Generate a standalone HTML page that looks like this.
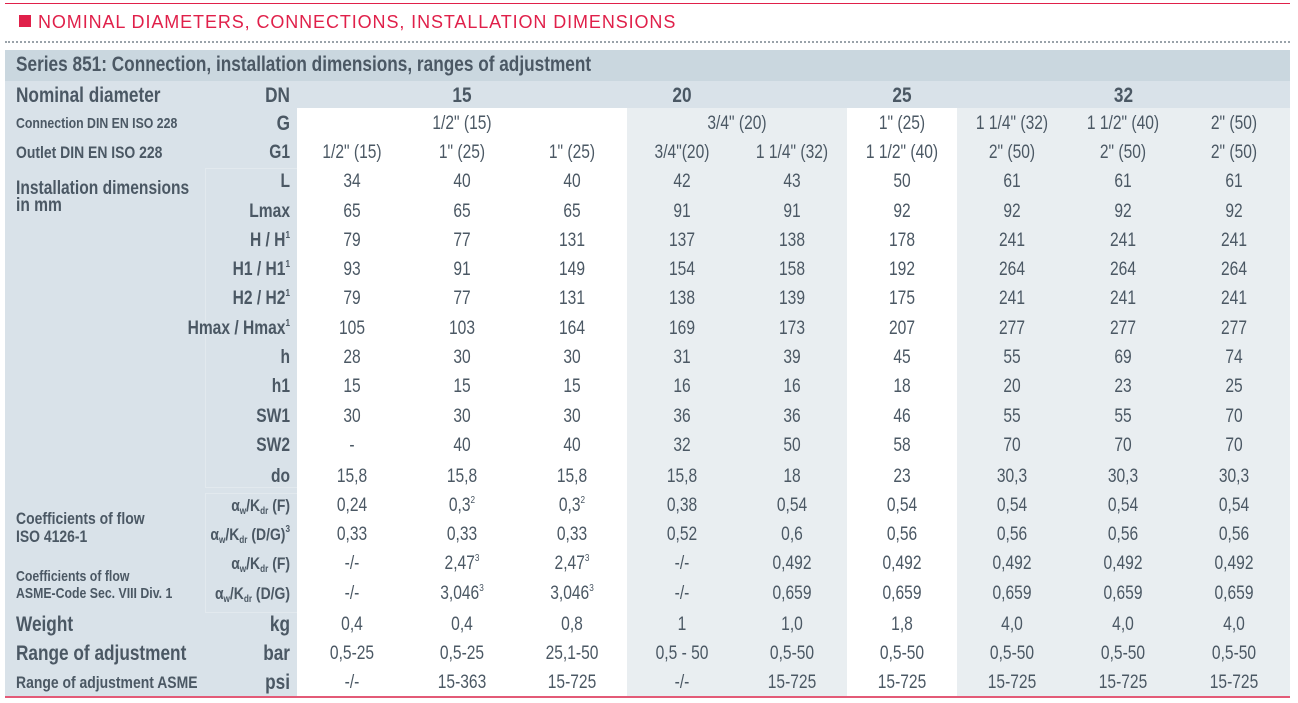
<!DOCTYPE html>
<html><head><meta charset="utf-8">
<style>
*{margin:0;padding:0;box-sizing:border-box}
body{width:1298px;height:703px;background:#fff;position:relative;overflow:hidden;font-family:"Liberation Sans",sans-serif;color:#4b5864}
div{position:absolute}
.t{height:24px;line-height:24px;font-size:19px;white-space:nowrap;transform:scaleX(.82)}
.c{width:110px;text-align:center;transform-origin:center}
.u{left:90px;width:200px;text-align:right;font-weight:bold;transform-origin:right}
.l{left:16px;font-weight:bold;transform-origin:left}
sup{font-size:10px;vertical-align:8px;line-height:0}
sub{font-size:10px;vertical-align:-3px;line-height:0}
.x0{left:297px}.x1{left:407px}.x2{left:517px}.x3{left:627px}.x4{left:737px}.x5{left:847px}.x6{left:957px}.x7{left:1068px}.x8{left:1179px}
</style></head><body>
<div style="left:5px;top:3px;width:1285px;height:1px;background:#e0204a"></div>
<div style="left:19px;top:15px;width:12px;height:12px;background:#e0204a"></div>
<div style="left:38px;top:11px;font-size:18px;line-height:22px;color:#e0204a;letter-spacing:0.9px">NOMINAL DIAMETERS, CONNECTIONS, INSTALLATION DIMENSIONS</div>
<div style="left:5px;top:41px;width:1285px;height:0;border-top:2px dotted #9aa3aa"></div>
<div style="left:5px;top:50px;width:1285px;height:31px;background:#cad7df"></div>
<div style="left:5px;top:81px;width:292px;height:616px;background:#d9e2e9"></div>
<div style="left:297px;top:81px;width:993px;height:27px;background:#d9e2e9"></div>
<div style="left:627px;top:108px;width:220px;height:589px;background:#e9eef1"></div>
<div style="left:957px;top:108px;width:333px;height:589px;background:#e9eef1"></div>
<div style="left:205px;top:168px;width:92px;height:320px;border:1px solid #e2e9ee;border-right:none"></div>
<div style="left:205px;top:493px;width:92px;height:120px;border:1px solid #e2e9ee;border-right:none"></div>
<div style="left:5px;top:696px;width:1285px;height:2px;background:#e35a77"></div>

<div class="t l" style="top:53px;font-size:21px">Series 851: Connection, installation dimensions, ranges of adjustment</div>

<div class="t l" style="top:84px;font-size:21px">Nominal diameter</div>
<div class="t u" style="top:84px;font-size:21px">DN</div>
<div class="t c" style="left:297px;width:330px;top:84px;font-size:21px;font-weight:bold">15</div>
<div class="t c" style="left:627px;width:110px;top:84px;font-size:21px;font-weight:bold">20</div>
<div class="t c x5" style="top:84px;font-size:21px;font-weight:bold">25</div>
<div class="t c" style="left:957px;width:333px;top:84px;font-size:21px;font-weight:bold">32</div>

<div class="t l" style="top:112px;font-size:15px">Connection DIN EN ISO 228</div>
<div class="t u" style="top:112px;font-size:21px">G</div>
<div class="t c" style="left:297px;width:330px;top:112px">1/2" (15)</div>
<div class="t c" style="left:627px;width:220px;top:112px">3/4" (20)</div>
<div class="t c x5" style="top:112px">1" (25)</div>
<div class="t c x6" style="top:112px">1 1/4" (32)</div>
<div class="t c x7" style="top:112px">1 1/2" (40)</div>
<div class="t c x8" style="top:112px">2" (50)</div>

<div class="t l" style="top:141px;font-size:17px">Outlet DIN EN ISO 228</div>
<div class="t u" style="top:141px">G1</div>
<div class="t c x0" style="top:141px">1/2" (15)</div><div class="t c x1" style="top:141px">1" (25)</div><div class="t c x2" style="top:141px">1" (25)</div><div class="t c x3" style="top:141px">3/4"(20)</div><div class="t c x4" style="top:141px">1 1/4" (32)</div><div class="t c x5" style="top:141px">1 1/2" (40)</div><div class="t c x6" style="top:141px">2" (50)</div><div class="t c x7" style="top:141px">2" (50)</div><div class="t c x8" style="top:141px">2" (50)</div>

<div class="t l" style="top:177px;font-size:19px">Installation dimensions</div>
<div class="t l" style="top:194px;font-size:19px">in mm</div>

<div class="t u" style="top:170px">L</div>
<div class="t c x0" style="top:170px">34</div><div class="t c x1" style="top:170px">40</div><div class="t c x2" style="top:170px">40</div><div class="t c x3" style="top:170px">42</div><div class="t c x4" style="top:170px">43</div><div class="t c x5" style="top:170px">50</div><div class="t c x6" style="top:170px">61</div><div class="t c x7" style="top:170px">61</div><div class="t c x8" style="top:170px">61</div>

<div class="t u" style="top:200px">Lmax</div>
<div class="t c x0" style="top:200px">65</div><div class="t c x1" style="top:200px">65</div><div class="t c x2" style="top:200px">65</div><div class="t c x3" style="top:200px">91</div><div class="t c x4" style="top:200px">91</div><div class="t c x5" style="top:200px">92</div><div class="t c x6" style="top:200px">92</div><div class="t c x7" style="top:200px">92</div><div class="t c x8" style="top:200px">92</div>

<div class="t u" style="top:229px">H / H<sup>1</sup></div>
<div class="t c x0" style="top:229px">79</div><div class="t c x1" style="top:229px">77</div><div class="t c x2" style="top:229px">131</div><div class="t c x3" style="top:229px">137</div><div class="t c x4" style="top:229px">138</div><div class="t c x5" style="top:229px">178</div><div class="t c x6" style="top:229px">241</div><div class="t c x7" style="top:229px">241</div><div class="t c x8" style="top:229px">241</div>

<div class="t u" style="top:258px">H1 / H1<sup>1</sup></div>
<div class="t c x0" style="top:258px">93</div><div class="t c x1" style="top:258px">91</div><div class="t c x2" style="top:258px">149</div><div class="t c x3" style="top:258px">154</div><div class="t c x4" style="top:258px">158</div><div class="t c x5" style="top:258px">192</div><div class="t c x6" style="top:258px">264</div><div class="t c x7" style="top:258px">264</div><div class="t c x8" style="top:258px">264</div>

<div class="t u" style="top:287px">H2 / H2<sup>1</sup></div>
<div class="t c x0" style="top:287px">79</div><div class="t c x1" style="top:287px">77</div><div class="t c x2" style="top:287px">131</div><div class="t c x3" style="top:287px">138</div><div class="t c x4" style="top:287px">139</div><div class="t c x5" style="top:287px">175</div><div class="t c x6" style="top:287px">241</div><div class="t c x7" style="top:287px">241</div><div class="t c x8" style="top:287px">241</div>

<div class="t u" style="top:317px">Hmax / Hmax<sup>1</sup></div>
<div class="t c x0" style="top:317px">105</div><div class="t c x1" style="top:317px">103</div><div class="t c x2" style="top:317px">164</div><div class="t c x3" style="top:317px">169</div><div class="t c x4" style="top:317px">173</div><div class="t c x5" style="top:317px">207</div><div class="t c x6" style="top:317px">277</div><div class="t c x7" style="top:317px">277</div><div class="t c x8" style="top:317px">277</div>

<div class="t u" style="top:346px">h</div>
<div class="t c x0" style="top:346px">28</div><div class="t c x1" style="top:346px">30</div><div class="t c x2" style="top:346px">30</div><div class="t c x3" style="top:346px">31</div><div class="t c x4" style="top:346px">39</div><div class="t c x5" style="top:346px">45</div><div class="t c x6" style="top:346px">55</div><div class="t c x7" style="top:346px">69</div><div class="t c x8" style="top:346px">74</div>

<div class="t u" style="top:375px">h1</div>
<div class="t c x0" style="top:375px">15</div><div class="t c x1" style="top:375px">15</div><div class="t c x2" style="top:375px">15</div><div class="t c x3" style="top:375px">16</div><div class="t c x4" style="top:375px">16</div><div class="t c x5" style="top:375px">18</div><div class="t c x6" style="top:375px">20</div><div class="t c x7" style="top:375px">23</div><div class="t c x8" style="top:375px">25</div>

<div class="t u" style="top:405px">SW1</div>
<div class="t c x0" style="top:405px">30</div><div class="t c x1" style="top:405px">30</div><div class="t c x2" style="top:405px">30</div><div class="t c x3" style="top:405px">36</div><div class="t c x4" style="top:405px">36</div><div class="t c x5" style="top:405px">46</div><div class="t c x6" style="top:405px">55</div><div class="t c x7" style="top:405px">55</div><div class="t c x8" style="top:405px">70</div>

<div class="t u" style="top:434px">SW2</div>
<div class="t c x0" style="top:434px">-</div><div class="t c x1" style="top:434px">40</div><div class="t c x2" style="top:434px">40</div><div class="t c x3" style="top:434px">32</div><div class="t c x4" style="top:434px">50</div><div class="t c x5" style="top:434px">58</div><div class="t c x6" style="top:434px">70</div><div class="t c x7" style="top:434px">70</div><div class="t c x8" style="top:434px">70</div>

<div class="t u" style="top:465px">do</div>
<div class="t c x0" style="top:465px">15,8</div><div class="t c x1" style="top:465px">15,8</div><div class="t c x2" style="top:465px">15,8</div><div class="t c x3" style="top:465px">15,8</div><div class="t c x4" style="top:465px">18</div><div class="t c x5" style="top:465px">23</div><div class="t c x6" style="top:465px">30,3</div><div class="t c x7" style="top:465px">30,3</div><div class="t c x8" style="top:465px">30,3</div>

<div class="t l" style="top:507px;font-size:17px">Coefficients of flow</div>
<div class="t l" style="top:525px;font-size:17px">ISO 4126-1</div>
<div class="t l" style="top:565px;font-size:15px">Coefficients of flow</div>
<div class="t l" style="top:582px;font-size:15px">ASME-Code Sec. VIII Div. 1</div>

<div class="t u" style="top:494px;font-size:17px">α<sub>w</sub>/K<sub>dr</sub> (F)</div>
<div class="t c x0" style="top:494px">0,24</div><div class="t c x1" style="top:494px">0,3<sup>2</sup></div><div class="t c x2" style="top:494px">0,3<sup>2</sup></div><div class="t c x3" style="top:494px">0,38</div><div class="t c x4" style="top:494px">0,54</div><div class="t c x5" style="top:494px">0,54</div><div class="t c x6" style="top:494px">0,54</div><div class="t c x7" style="top:494px">0,54</div><div class="t c x8" style="top:494px">0,54</div>

<div class="t u" style="top:523px;font-size:17px">α<sub>w</sub>/K<sub>dr</sub> (D/G)<sup>3</sup></div>
<div class="t c x0" style="top:523px">0,33</div><div class="t c x1" style="top:523px">0,33</div><div class="t c x2" style="top:523px">0,33</div><div class="t c x3" style="top:523px">0,52</div><div class="t c x4" style="top:523px">0,6</div><div class="t c x5" style="top:523px">0,56</div><div class="t c x6" style="top:523px">0,56</div><div class="t c x7" style="top:523px">0,56</div><div class="t c x8" style="top:523px">0,56</div>

<div class="t u" style="top:552px;font-size:17px">α<sub>w</sub>/K<sub>dr</sub> (F)</div>
<div class="t c x0" style="top:552px">-/-</div><div class="t c x1" style="top:552px">2,47<sup>3</sup></div><div class="t c x2" style="top:552px">2,47<sup>3</sup></div><div class="t c x3" style="top:552px">-/-</div><div class="t c x4" style="top:552px">0,492</div><div class="t c x5" style="top:552px">0,492</div><div class="t c x6" style="top:552px">0,492</div><div class="t c x7" style="top:552px">0,492</div><div class="t c x8" style="top:552px">0,492</div>

<div class="t u" style="top:582px;font-size:17px">α<sub>w</sub>/K<sub>dr</sub> (D/G)</div>
<div class="t c x0" style="top:582px">-/-</div><div class="t c x1" style="top:582px">3,046<sup>3</sup></div><div class="t c x2" style="top:582px">3,046<sup>3</sup></div><div class="t c x3" style="top:582px">-/-</div><div class="t c x4" style="top:582px">0,659</div><div class="t c x5" style="top:582px">0,659</div><div class="t c x6" style="top:582px">0,659</div><div class="t c x7" style="top:582px">0,659</div><div class="t c x8" style="top:582px">0,659</div>

<div class="t l" style="top:613px;font-size:21px">Weight</div>
<div class="t u" style="top:613px;font-size:21px">kg</div>
<div class="t c x0" style="top:613px">0,4</div><div class="t c x1" style="top:613px">0,4</div><div class="t c x2" style="top:613px">0,8</div><div class="t c x3" style="top:613px">1</div><div class="t c x4" style="top:613px">1,0</div><div class="t c x5" style="top:613px">1,8</div><div class="t c x6" style="top:613px">4,0</div><div class="t c x7" style="top:613px">4,0</div><div class="t c x8" style="top:613px">4,0</div>

<div class="t l" style="top:642px;font-size:21px">Range of adjustment</div>
<div class="t u" style="top:642px;font-size:21px">bar</div>
<div class="t c x0" style="top:642px">0,5-25</div><div class="t c x1" style="top:642px">0,5-25</div><div class="t c x2" style="top:642px">25,1-50</div><div class="t c x3" style="top:642px">0,5 - 50</div><div class="t c x4" style="top:642px">0,5-50</div><div class="t c x5" style="top:642px">0,5-50</div><div class="t c x6" style="top:642px">0,5-50</div><div class="t c x7" style="top:642px">0,5-50</div><div class="t c x8" style="top:642px">0,5-50</div>

<div class="t l" style="top:671px;font-size:17px">Range of adjustment ASME</div>
<div class="t u" style="top:671px;font-size:21px">psi</div>
<div class="t c x0" style="top:671px">-/-</div><div class="t c x1" style="top:671px">15-363</div><div class="t c x2" style="top:671px">15-725</div><div class="t c x3" style="top:671px">-/-</div><div class="t c x4" style="top:671px">15-725</div><div class="t c x5" style="top:671px">15-725</div><div class="t c x6" style="top:671px">15-725</div><div class="t c x7" style="top:671px">15-725</div><div class="t c x8" style="top:671px">15-725</div>
</body></html>
